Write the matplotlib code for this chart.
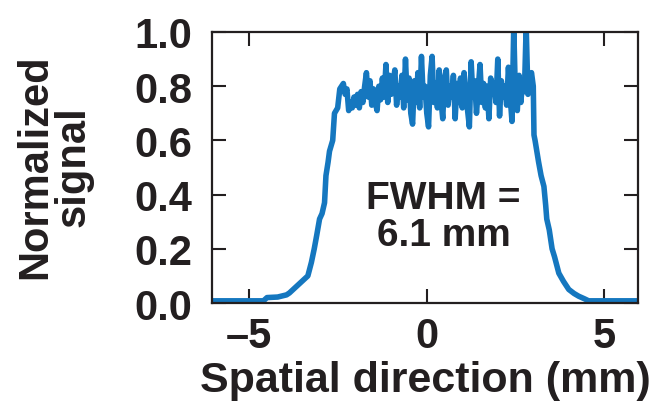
import matplotlib
matplotlib.use("Agg")
import matplotlib.pyplot as plt
import numpy as np

# beam profile (x in mm, normalized signal)
rise_x = [-6.05, -4.60, -4.50, -4.20, -3.95, -3.87, -3.60, -3.35, -3.25, -3.17,
          -3.10, -3.02, -2.95, -2.88, -2.84, -2.78, -2.74, -2.65, -2.60, -2.51, -2.45]
rise_y = [0.008, 0.008, 0.020, 0.022, 0.030, 0.037, 0.070, 0.100, 0.150, 0.200,
          0.250, 0.310, 0.330, 0.370, 0.470, 0.520, 0.560, 0.600, 0.700, 0.720, 0.790]

plateau_x = np.round(np.arange(-2.40, 3.001, 0.05), 2)
plateau_y = [
    0.80, 0.81, 0.77, 0.79, 0.71, 0.74, 0.72, 0.76, 0.73, 0.77,
    0.72, 0.78, 0.74, 0.80, 0.85, 0.76, 0.82, 0.73, 0.79, 0.74,
    0.71, 0.80, 0.75, 0.83, 0.76, 0.88, 0.74, 0.84, 0.77, 0.81,
    0.86, 0.73, 0.80, 0.76, 0.84, 0.72, 0.90, 0.75, 0.83, 0.70,
    0.66, 0.82, 0.74, 0.85, 0.72, 0.91, 0.76, 0.80, 0.70, 0.65,
    0.84, 0.91, 0.74, 0.81, 0.72, 0.86, 0.75, 0.68, 0.83, 0.86,
    0.73, 0.80, 0.76, 0.84, 0.68, 0.81, 0.74, 0.83, 0.72, 0.85,
    0.78, 0.71, 0.65, 0.89, 0.76, 0.82, 0.70, 0.79, 0.88, 0.74,
    0.81, 0.72, 0.80, 0.68, 0.83, 0.77, 0.81, 0.74, 0.90, 0.69,
    0.82, 0.76, 0.80, 0.73, 0.87, 0.76, 0.67, 1.02, 0.75, 0.71,
    0.84, 0.74, 0.82, 0.78, 1.02, 0.77, 0.83, 0.85, 0.80,
]

fall_x = [3.02, 3.05, 3.10, 3.15, 3.22, 3.30, 3.35, 3.38, 3.45, 3.53,
          3.60, 3.72, 3.85, 4.00, 4.15, 4.28, 4.45, 4.56, 5.95]
fall_y = [0.62, 0.60, 0.56, 0.52, 0.47, 0.43, 0.36, 0.31, 0.27, 0.20,
          0.17, 0.11, 0.08, 0.05, 0.035, 0.025, 0.015, 0.008, 0.008]

x = np.concatenate([rise_x, plateau_x, fall_x])
y = np.concatenate([rise_y, plateau_y, fall_y])

ink = "#231f20"
blue = "#1577bf"

plt.rcParams["font.family"] = ["Liberation Sans", "DejaVu Sans"]
plt.rcParams["font.weight"] = "bold"
plt.rcParams["text.color"] = ink

fig = plt.figure(figsize=(6.5, 4.14), dpi=100)
ax = fig.add_axes([212 / 650, 1 - 304 / 414, 426 / 650, 271 / 414])

ax.plot(x, y, color=blue, lw=4.0, solid_joinstyle="round")

ax.set_xlim(-6.05, 5.95)
ax.set_ylim(0, 1.0)
ax.set_xticks([-5, 0, 5])
ax.set_yticks([0, 0.2, 0.4, 0.6, 0.8, 1.0])
ax.set_yticklabels(["0.0", "0.2", "0.4", "0.6", "0.8", "1.0"])
ax.set_xticklabels(["\u20135", "0", "5"])

ax.tick_params(direction="in", length=10, width=1.5, colors=ink,
               top=True, right=True, labelsize=30)
ax.tick_params(axis="x", pad=9)
ax.tick_params(axis="y", pad=14)
for s in ax.spines.values():
    s.set_linewidth(1.6)
    s.set_color(ink)

ax.set_xlabel("Spatial direction (mm)", fontsize=31, fontweight="bold",
              color=ink, labelpad=3)
fig.text(54 / 650, 1 - 167 / 414, "Normalized\nsignal", rotation=90,
         ha="center", va="center", fontsize=30, fontweight="bold",
         color=ink, linespacing=0.95, multialignment="center")

ax.text(0.47, 0.32, "FWHM =\n6.1 mm", ha="center", va="center",
        fontsize=28, fontweight="bold", color=ink, linespacing=1.05)

fig.savefig("out.png", dpi=100)
